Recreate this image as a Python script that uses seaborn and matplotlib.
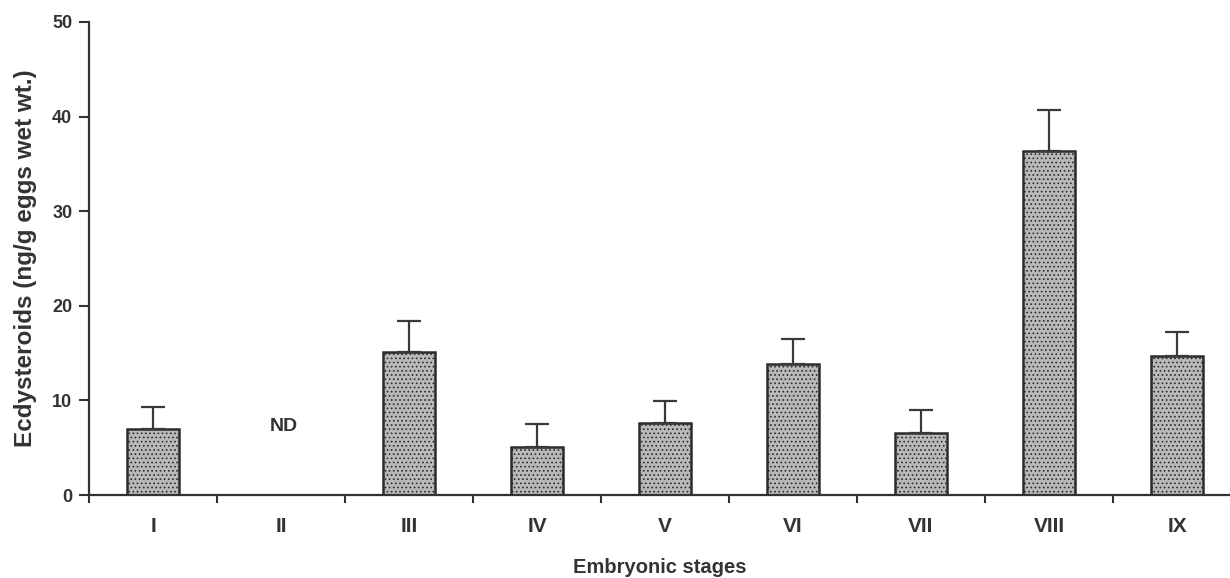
import numpy as np
import pandas as pd
import matplotlib
matplotlib.use("Agg")
import matplotlib.pyplot as plt
import seaborn as sns

# data
stages = ["I", "II", "III", "IV", "V", "VI", "VII", "VIII", "IX"]
means = [7.0, np.nan, 15.1, 5.1, 7.6, 13.9, 6.6, 36.4, 14.7]
upper = [9.3, np.nan, 18.4, 7.5, 9.9, 16.5, 9.0, 40.7, 17.2]

df = pd.DataFrame({"stage": stages, "value": means})
err = np.array(upper) - np.array(means)

sns.set_style("white")
plt.rcParams["font.family"] = ["Liberation Sans", "DejaVu Sans"]
plt.rcParams["font.weight"] = "bold"
plt.rcParams["hatch.color"] = "#7a7a7a"
plt.rcParams["hatch.linewidth"] = 0.7

txt = "#333333"

fig = plt.figure(figsize=(12.3, 5.78), dpi=100)
ax = fig.add_axes([89 / 1230, 1 - 495 / 578, 1 - 89 / 1230, (495 - 22) / 578])

sns.barplot(data=df, x="stage", y="value", order=stages, color="#b9b9b9",
            width=0.41, edgecolor="#2b2b2b", linewidth=1.8, ax=ax, errorbar=None)
for p in ax.patches:
    p.set_hatch("....")

x = np.arange(len(stages))
ax.errorbar(x, means, yerr=[np.zeros(len(err)), err], fmt="none",
            ecolor="#3a3a3a", elinewidth=1.6, capsize=8.3, capthick=1.6, zorder=3)

ax.text(1.02, 7.2, "ND", ha="center", va="center", fontsize=14, fontweight="bold", color=txt)

ax.set_ylim(0, 50)
ax.set_xlim(-0.5, 8.414)
ax.set_yticks([0, 10, 20, 30, 40, 50])
ax.set_xticks(x)
ax.set_xticks(np.arange(-0.5, 8.0, 1.0), minor=True)
ax.tick_params(axis="x", which="major", bottom=True, length=0, pad=16, labelsize=15, labelcolor=txt)
ax.tick_params(axis="x", which="minor", bottom=True, length=6, width=1.5, color="#333333", direction="out")
ax.tick_params(axis="y", which="major", left=True, length=7, width=1.5, color="#333333",
               direction="out", labelsize=13, labelcolor=txt, pad=5)

for s in ["top", "right"]:
    ax.spines[s].set_visible(False)
for s in ["left", "bottom"]:
    ax.spines[s].set_color("#333333")
    ax.spines[s].set_linewidth(1.6)

ax.set_xlabel("Embryonic stages", fontsize=14.5, fontweight="bold", color=txt, labelpad=15.5)
ax.set_ylabel("Ecdysteroids (ng/g eggs wet wt.)", fontsize=17.5, fontweight="bold",
              color=txt, labelpad=11)

fig.savefig("out.png", dpi=100)
